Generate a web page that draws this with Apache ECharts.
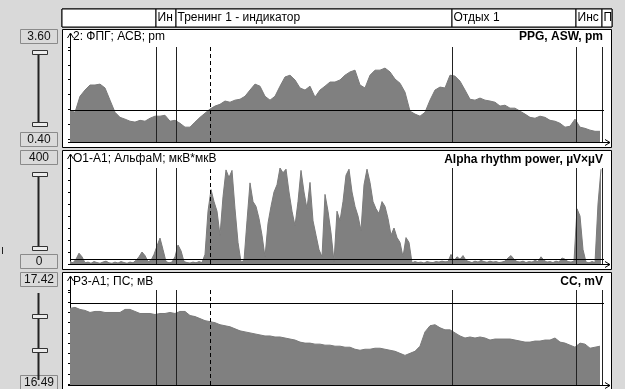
<!DOCTYPE html>
<html>
<head>
<meta charset="utf-8">
<script src="https://cdn.jsdelivr.net/npm/echarts@6/dist/echarts.min.js"></script>
<style>
  html, body { margin: 0; padding: 0; background: #d9d9d9; }
  #chart { width: 625px; height: 389px; }
</style>
</head>
<body>
<div id="chart"></div>
<script>
// --- data (time in samples, one sample = 1 unit on x) ---
const ppgStep = 5
const ppgValues = [1.47, 1.40, 1.94, 2.15, 2.32, 2.32, 2.35, 2.22, 1.81, 1.40,
  1.23, 1.17, 1.10, 1.07, 1.13, 1.10, 1.20, 1.27, 1.27, 1.30,
  1.10, 1.13, 1.03, 0.90, 0.90, 1.07, 1.23, 1.37, 1.51, 1.61,
  1.67, 1.78, 1.74, 1.81, 1.84, 1.94, 2.15, 2.35, 2.28, 1.94,
  1.81, 1.94, 2.28, 2.59, 2.65, 2.49, 2.22, 2.15, 2.28, 1.91,
  2.15, 2.28, 2.42, 2.42, 2.49, 2.65, 2.76, 2.82, 2.32, 2.22,
  2.65, 2.82, 2.82, 2.89, 2.76, 2.52, 2.38, 2.08, 1.44, 1.34,
  1.27, 1.40, 1.81, 2.15, 2.25, 2.22, 2.65, 2.62, 2.45, 2.15,
  1.84, 1.81, 1.88, 1.81, 1.78, 1.74, 1.61, 1.64, 1.54, 1.54,
  1.44, 1.34, 1.23, 1.20, 1.27, 1.23, 1.13, 1.10, 1.03, 0.90,
  0.93, 1.17, 0.90, 0.86, 0.80, 0.76, 0.76]

const alphaStep = 3
const alphaValues = [10, 5, 20, 45, 30, 5, 8, 3, 10, 6,
  3, 8, 12, 5, 3, 8, 4, 10, 6, 3,
  8, 5, 15, 30, 50, 35, 10, 15, 40, 75,
  108, 60, 10, 5, 8, 30, 79, 55, 10, 6,
  4, 8, 5, 10, 6, 40, 220, 310, 260, 220,
  120, 280, 392, 360, 390, 230, 90, 8, 15, 180,
  338, 260, 240, 190, 120, 30, 170, 240, 300, 330,
  400, 380, 395, 300, 220, 160, 260, 390, 300, 230,
  340, 180, 120, 60, 30, 290, 220, 130, 10, 220,
  180, 260, 370, 395, 300, 240, 200, 140, 330, 395,
  340, 260, 230, 210, 260, 240, 190, 120, 150, 110,
  90, 30, 110, 90, 5, 10, 6, 8, 4, 10,
  7, 6, 10, 8, 12, 9, 10, 40, 12, 30,
  20, 35, 15, 10, 6, 12, 8, 15, 10, 7,
  12, 8, 10, 6, 8, 12, 25, 35, 20, 10,
  8, 12, 6, 10, 8, 15, 10, 30, 15, 8,
  10, 6, 12, 8, 25, 20, 10, 8, 12, 230,
  200, 60, 8, 5, 10, 6, 250, 395]

const ccStep = 5
const ccValues = [17.24, 17.25, 17.23, 17.22, 17.20, 17.21, 17.21, 17.20, 17.20, 17.20,
  17.20, 17.23, 17.23, 17.21, 17.19, 17.19, 17.19, 17.18, 17.19, 17.19,
  17.20, 17.19, 17.21, 17.21, 17.17, 17.16, 17.14, 17.12, 17.11, 17.10,
  17.08, 17.07, 17.06, 17.04, 17.02, 17.01, 17.00, 16.99, 16.98, 16.97,
  16.97, 16.96, 16.96, 16.95, 16.94, 16.93, 16.91, 16.90, 16.90, 16.89,
  16.89, 16.88, 16.88, 16.87, 16.87, 16.86, 16.86, 16.84, 16.83, 16.84,
  16.84, 16.85, 16.85, 16.84, 16.83, 16.82, 16.80, 16.78, 16.80, 16.82,
  16.87, 17.01, 17.07, 17.08, 17.05, 17.03, 17.03, 17.00, 16.97, 16.95,
  16.96, 16.95, 16.96, 16.95, 16.93, 16.94, 16.94, 16.94, 16.94, 16.93,
  16.92, 16.91, 16.91, 16.92, 16.92, 16.93, 16.93, 16.95, 16.91, 16.90,
  16.88, 16.86, 16.90, 16.89, 16.85, 16.86, 16.87]

// thresholds (horizontal lines)
const thresholds = [1.47, 18, 17.29]
// scale limits shown in the left boxes
const scaleMin = [0.40, 0, 16.49]
const scaleMax = [3.60, 400, 17.42]
const scaleMinText = ['0.40', '0', '16.49']
const scaleMaxText = ['3.60', '400', '17.42']

// stages in the header
const stageNames = ['', 'Ин', 'Тренинг 1 - индикатор', 'Отдых 1', 'Инс', 'П']
const stageStarts = [-8, 86, 106, 382, 506, 532]
const stageEnd = 542
const eventMarks = [140] // dashed marker

const leftTitles = ['2: ФПГ; АСВ; pm', 'O1-A1; АльфаМ; мкВ*мкВ', 'P3-A1; ПС; мВ']
const rightTitles = ['PPG, ASW, pm', 'Alpha rhythm power, µV×µV', 'CC, mV']

// --- layout ---
const FONT = '"Liberation Sans", Arial, sans-serif'
const X0 = 70, X1 = 604
const plotTop = [47, 168, 290]
const plotBase = [142, 264, 385]
const boxTop = [29, 150, 272]
const boxBottom = [147, 269, 395]
const titleTop = [31, 153, 276]
const seriesData = [
  ppgValues.map((v, i) => [i * ppgStep, v]),
  alphaValues.map((v, i) => [i * alphaStep, v]),
  ccValues.map((v, i) => [i * ccStep, v])
]

const chart = echarts.init(document.getElementById('chart'), null, { renderer: 'canvas' })

const grid = [], xAxis = [], yAxis = [], series = [], title = [], graphic = []

for (let i = 0; i < 3; i++) {
  grid.push({ left: X0, right: 625 - X1, top: plotTop[i], height: plotBase[i] - plotTop[i] })
  xAxis.push({
    gridIndex: i, type: 'value', min: 0, max: X1 - X0,
    axisLine: { show: false }, axisTick: { show: false }, axisLabel: { show: false }, splitLine: { show: false }
  })
  yAxis.push({
    gridIndex: i, type: 'value', min: scaleMin[i], max: scaleMax[i], splitNumber: 8,
    axisLine: { show: true, lineStyle: { color: '#000', width: 1 } },
    axisTick: { show: true, length: 2, lineStyle: { color: '#000' } },
    axisLabel: { show: false }, splitLine: { show: false }
  })
  const marks = stageStarts.slice(1).map(t => ({ xAxis: t, lineStyle: { color: '#222', width: 1, type: 'solid' } }))
  eventMarks.forEach(t => marks.push({ xAxis: t, lineStyle: { color: '#000', width: 1, type: [4, 3] } }))
  marks.push({ yAxis: thresholds[i], lineStyle: { color: '#000', width: 1, type: 'solid' } })
  series.push({
    type: 'line', xAxisIndex: i, yAxisIndex: i, data: seriesData[i],
    showSymbol: false, symbol: 'none', animation: false,
    lineStyle: { width: 1, color: '#7a7a7a' },
    areaStyle: { color: '#808080', opacity: 1, origin: 'start' },
    markLine: { silent: true, symbol: 'none', animation: false, label: { show: false }, data: marks }
  })
  title.push({
    text: leftTitles[i], left: 73, top: titleTop[i], padding: 0,
    textStyle: { fontSize: 12, fontWeight: 'normal', color: '#000', fontFamily: FONT }
  })
  title.push({
    text: rightTitles[i], right: 625 - X1 + 1, top: titleTop[i] + (i === 1 ? 1 : 0), padding: 0,
    textStyle: { fontSize: 12, fontWeight: 'bold', color: '#000', fontFamily: FONT }
  })

  // panel box
  graphic.push({ type: 'rect', z: -10, shape: { x: 62.5, y: boxTop[i] + 0.5, width: 549, height: boxBottom[i] - boxTop[i] },
    style: { fill: '#fff', stroke: '#000', lineWidth: 1 } })
  // axis arrows
  const b = plotBase[i] + 0.5, t = plotTop[i]
  graphic.push({ type: 'polyline', z: 50, shape: { points: [[X0 + 0.5, t], [X0 + 0.5, boxTop[i] + 5]] }, style: { stroke: '#000', lineWidth: 1 } })
  graphic.push({ type: 'polyline', z: 50, shape: { points: [[X0 - 2.5, boxTop[i] + 9], [X0 + 0.5, boxTop[i] + 4], [X0 + 3.5, boxTop[i] + 9]] }, style: { stroke: '#000', lineWidth: 1, fill: null } })
  graphic.push({ type: 'polyline', z: 50, shape: { points: [[X0, b], [610, b]] }, style: { stroke: '#000', lineWidth: 1 } })
  graphic.push({ type: 'polyline', z: 50, shape: { points: [[605, b - 3], [610, b], [605, b + 3]] }, style: { stroke: '#000', lineWidth: 1, fill: null } })

  // scale boxes on the left
  const boxes = [[boxTop[i], scaleMaxText[i]], [boxBottom[i] > 389 ? 375 : boxBottom[i] - 15, scaleMinText[i]]]
  boxes.forEach(([y, txt]) => {
    graphic.push({ type: 'rect', shape: { x: 20.5, y: y + 0.5, width: 37, height: 14 }, style: { fill: '#dadada', stroke: '#8a8a8a', lineWidth: 1 } })
    graphic.push({ type: 'text', style: { x: 39, y: y + 8, text: txt, align: 'center', verticalAlign: 'middle', fontSize: 12, fontFamily: FONT, fill: '#111' } })
  })
}

// sliders
const sliderSpans = [[51, 126], [172, 250], [293, 380]]
const sliderHandles = [[50, 122], [172, 246], [314, 348]]
for (let i = 0; i < 3; i++) {
  graphic.push({ type: 'line', shape: { x1: 38.5, y1: sliderSpans[i][0], x2: 38.5, y2: sliderSpans[i][1] }, style: { stroke: '#222', lineWidth: 2 } })
  sliderHandles[i].forEach(y => {
    graphic.push({ type: 'rect', shape: { x: 32.5, y: y + 0.5, width: 15, height: 4 }, style: { fill: '#ececec', stroke: '#333', lineWidth: 1 } })
  })
}
graphic.push({ type: 'line', shape: { x1: 2.5, y1: 247, x2: 2.5, y2: 254 }, style: { stroke: '#222', lineWidth: 1 } })

// header grid (stages)
grid.push({ left: 62, right: 13, top: 9, height: 18, show: true, backgroundColor: '#fff', borderColor: '#000', borderWidth: 1 })
xAxis.push({ gridIndex: 3, type: 'value', min: -8, max: stageEnd, show: false })
yAxis.push({ gridIndex: 3, type: 'value', min: 0, max: 1, show: false })
series.push({
  type: 'line', xAxisIndex: 3, yAxisIndex: 3, data: [[0, 0]], symbol: 'none', lineStyle: { width: 0 }, animation: false,
  markArea: {
    silent: true, animation: false,
    data: stageNames.map((name, k) => [
      {
        xAxis: stageStarts[k], name: name,
        itemStyle: { color: '#fff', borderColor: '#000', borderWidth: 1 },
        label: { show: true, position: 'insideLeft', distance: 2, color: '#000', fontSize: 12, fontFamily: FONT }
      },
      { xAxis: k + 1 < stageStarts.length ? stageStarts[k + 1] : stageEnd }
    ])
  }
})

chart.setOption({
  animation: false,
  backgroundColor: '#d9d9d9',
  title, grid, xAxis, yAxis, series, graphic
})
</script>
</body>
</html>
